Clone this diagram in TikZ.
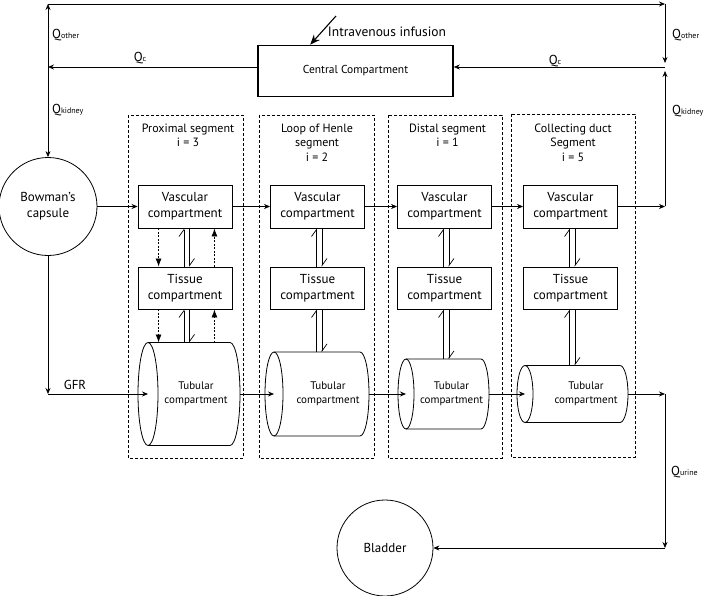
\documentclass[tikz,border=0pt]{standalone}
\usepackage{fontspec}
\setmainfont{PT Sans}
\usetikzlibrary{arrows.meta,calc}
\newcommand\qlab[1]{Q{\fontsize{8}{8}\selectfont #1}}
\begin{document}
\begin{tikzpicture}[x=1pt,y=-1pt,
  conn/.style={line width=0.7pt,-{Stealth[length=6pt,width=5pt]}},
  plain/.style={line width=0.7pt},
  box/.style={draw,line width=0.9pt,minimum width=94pt,inner sep=0pt,align=center,font=\fontsize{13}{16}\selectfont},
  seg/.style={draw,dash pattern=on 3pt off 2pt,line width=0.6pt},
  seglab/.style={align=center,inner sep=0pt,font=\fontsize{12}{14.5}\selectfont},
  harp/.style={line width=0.7pt,-{Straight Barb[harpoon,length=7pt,width=10pt,line width=0.7pt]}},
  dotarr/.style={line width=0.8pt,dash pattern=on 2pt off 1.5pt,-{Latex[length=8pt,width=6pt]}},
  cyl/.style={draw,line width=0.8pt},
  tubtext/.style={align=center,inner sep=0pt,font=\fontsize{11}{14}\selectfont},
  qlabel/.style={inner sep=0pt,font=\fontsize{13}{13}\selectfont},
  organ/.style={draw,circle,line width=0.8pt,align=center,inner sep=0pt,font=\fontsize{13}{16}\selectfont}
]
\useasboundingbox (0,0) rectangle (709,596);

% junction coordinates
\coordinate (TL) at (48,4);
\coordinate (TR) at (665,4);
\coordinate (JL) at (48,67);
\coordinate (JR) at (665,67);
\coordinate (JV) at (665,206.5);
\coordinate (JT) at (665,394);
\coordinate (JB) at (665,548);
\coordinate (GJ) at (48,394);
\coordinate (INF) at (336,16);

% central compartment
\node[draw,line width=1.6pt,minimum width=195pt,minimum height=51pt,inner sep=0pt,font=\fontsize{11.5}{14}\selectfont] (cc) at (355.5,71) {Central Compartment};
\node[inner sep=0pt,font=\fontsize{13.5}{16}\selectfont] (inflab) at (387,32) {Intravenous infusion};
\draw[line width=1.1pt,-{Stealth[length=10pt,width=8pt]}] (INF) -- ($(cc.north west)+(53,0)$);

% organs
\node[organ,minimum size=98pt] (bow) at (48,206.5) {Bowman’s\\capsule};
\node[organ,minimum size=96pt] (bl) at (385,548) {Bladder};

% dashed segments
\draw[seg] (128,115) rectangle (243,458);
\draw[seg] (259,115) rectangle (374,458);
\draw[seg] (388,115) rectangle (502,458);
\draw[seg] (511,114) rectangle (635,457);
\node[seglab] (s1) at (188,135.5) {Proximal segment\\i = 3};
\node[seglab] (s2) at (317,142.5) {Loop of Henle\\segment\\i = 2};
\node[seglab] (s3) at (447.5,135.5) {Distal segment\\i = 1};
\node[seglab] (s4) at (573,142.5) {Collecting duct\\Segment\\i = 5};

% vascular and tissue boxes
\foreach \i/\cx in {1/185,2/317.5,3/444.5,4/570.5}{
  \node[box,minimum height=43pt] (v\i) at (\cx,206.5) {Vascular\\compartment};
  \node[box,minimum height=42pt] (t\i) at (\cx,288) {Tissue\\compartment};
}

% tubular cylinders
% 1
\draw[cyl] (148,342.5) -- (230,342.5) arc[start angle=90,end angle=-90,x radius=10pt,y radius=51.5pt] -- (148,445.5);
\draw[cyl] (148,394) ellipse[x radius=10pt,y radius=51.5pt];
\coordinate (f1) at (148,394); \coordinate (e1) at (240,394); \coordinate (n1) at (189,342.5);
\node[tubtext] (tub1) at (196,394) {Tubular\\compartment};
% 2
\draw[cyl] (274,352) -- (360,352) arc[start angle=90,end angle=-90,x radius=9pt,y radius=42pt] -- (274,436);
\draw[cyl] (274,394) ellipse[x radius=9pt,y radius=42pt];
\coordinate (f2) at (274,394); \coordinate (e2) at (369,394); \coordinate (n2) at (317,352);
\node[tubtext] (tub2) at (328,394) {Tubular\\compartment};
% 3
\draw[cyl] (406,359) -- (481,359) arc[start angle=90,end angle=-90,x radius=8pt,y radius=35pt] -- (406,429);
\draw[cyl] (406,394) ellipse[x radius=8pt,y radius=35pt];
\coordinate (f3) at (406,394); \coordinate (e3) at (489,394); \coordinate (n3) at (444,359);
\node[tubtext] (tub3) at (451.5,394) {Tubular\\compartment};
% 4
\draw[cyl] (525,365.5) -- (620,365.5) arc[start angle=90,end angle=-90,x radius=8pt,y radius=28.5pt] -- (525,422.5);
\draw[cyl] (525,394) ellipse[x radius=8pt,y radius=28.5pt];
\coordinate (f4) at (525,394); \coordinate (e4) at (628,394); \coordinate (n4) at (572,365.5);
\node[tubtext] (tub4) at (586,394) {Tubular\\compartment};

% harpoons
\foreach \i in {1,2,3,4}{
  \draw[harp] ($(t\i.north)+(-1,0)$) -- ($(v\i.south)+(-1,0)$);
  \draw[harp] ($(v\i.south)+(4.5,0)$) -- ($(t\i.north)+(4.5,0)$);
  \draw[harp] ($(t\i.south |- n\i)+(-1,0)$) -- ($(t\i.south)+(-1,0)$);
  \draw[harp] ($(t\i.south)+(4.5,0)$) -- ($(t\i.south |- n\i)+(4.5,0)$);
}

% dotted arrows (proximal)
\draw[dotarr] ($(v1.south west)+(21,0)$) -- ($(t1.north west)+(21,0)$);
\draw[dotarr] ($(t1.north east)+(-18,0)$) -- ($(v1.south east)+(-18,0)$);
\draw[dotarr] ($(t1.south west)+(21,0)$) -- ($(t1.south west |- n1)+(21,0)$);
\draw[dotarr] ($(t1.south east |- n1)+(-18,0)$) -- ($(t1.south east)+(-18,0)$);

% horizontal flow
\draw[conn] (bow.east) -- (v1.west);
\draw[conn] (v1.east) -- (v2.west);
\draw[conn] (v2.east) -- (v3.west);
\draw[conn] (v3.east) -- (v4.west);
\draw[conn] (v4.east) -- (JV);
\draw[conn] (JV) -- ([yshift=-4pt]JR);
\draw[conn] (bow.south) -- (GJ);
\draw[conn] (GJ) -- (f1);
\draw[conn] (e1) -- (f2);
\draw[conn] (e2) -- (f3);
\draw[conn] (e3) -- (f4);
\draw[conn] (e4) -- (JT);
\draw[conn] (JT) -- (JB);
\draw[conn] (JB) -- (bl.east);

% outer loop
\draw[conn] (JL) -- (TL);
\draw[conn] (TL) -- (TR);
\draw[conn] (TR) -- ([yshift=4pt]JR);
\draw[conn] (JR) -- (cc.east |- JR);
\draw[conn] (cc.west |- JL) -- (JL);
\draw[conn] (JL) -- (bow.north);

% labels
\node[qlabel,anchor=west] (qo1) at (52,35) {\qlab{other}};
\node[qlabel] (qc1) at (140,58) {\qlab{c}};
\node[qlabel,anchor=west] (qk1) at (52,110) {\qlab{kidney}};
\node[qlabel,anchor=west] (qo2) at (672,35) {\qlab{other}};
\node[qlabel] (qc2) at (555,61) {\qlab{c}};
\node[qlabel,anchor=west] (qk2) at (672,111) {\qlab{kidney}};
\node[qlabel,anchor=west] (qu) at (671,472) {\qlab{urine}};
\node[qlabel] (gfr) at (75,385) {GFR};
\end{tikzpicture}
\end{document}
